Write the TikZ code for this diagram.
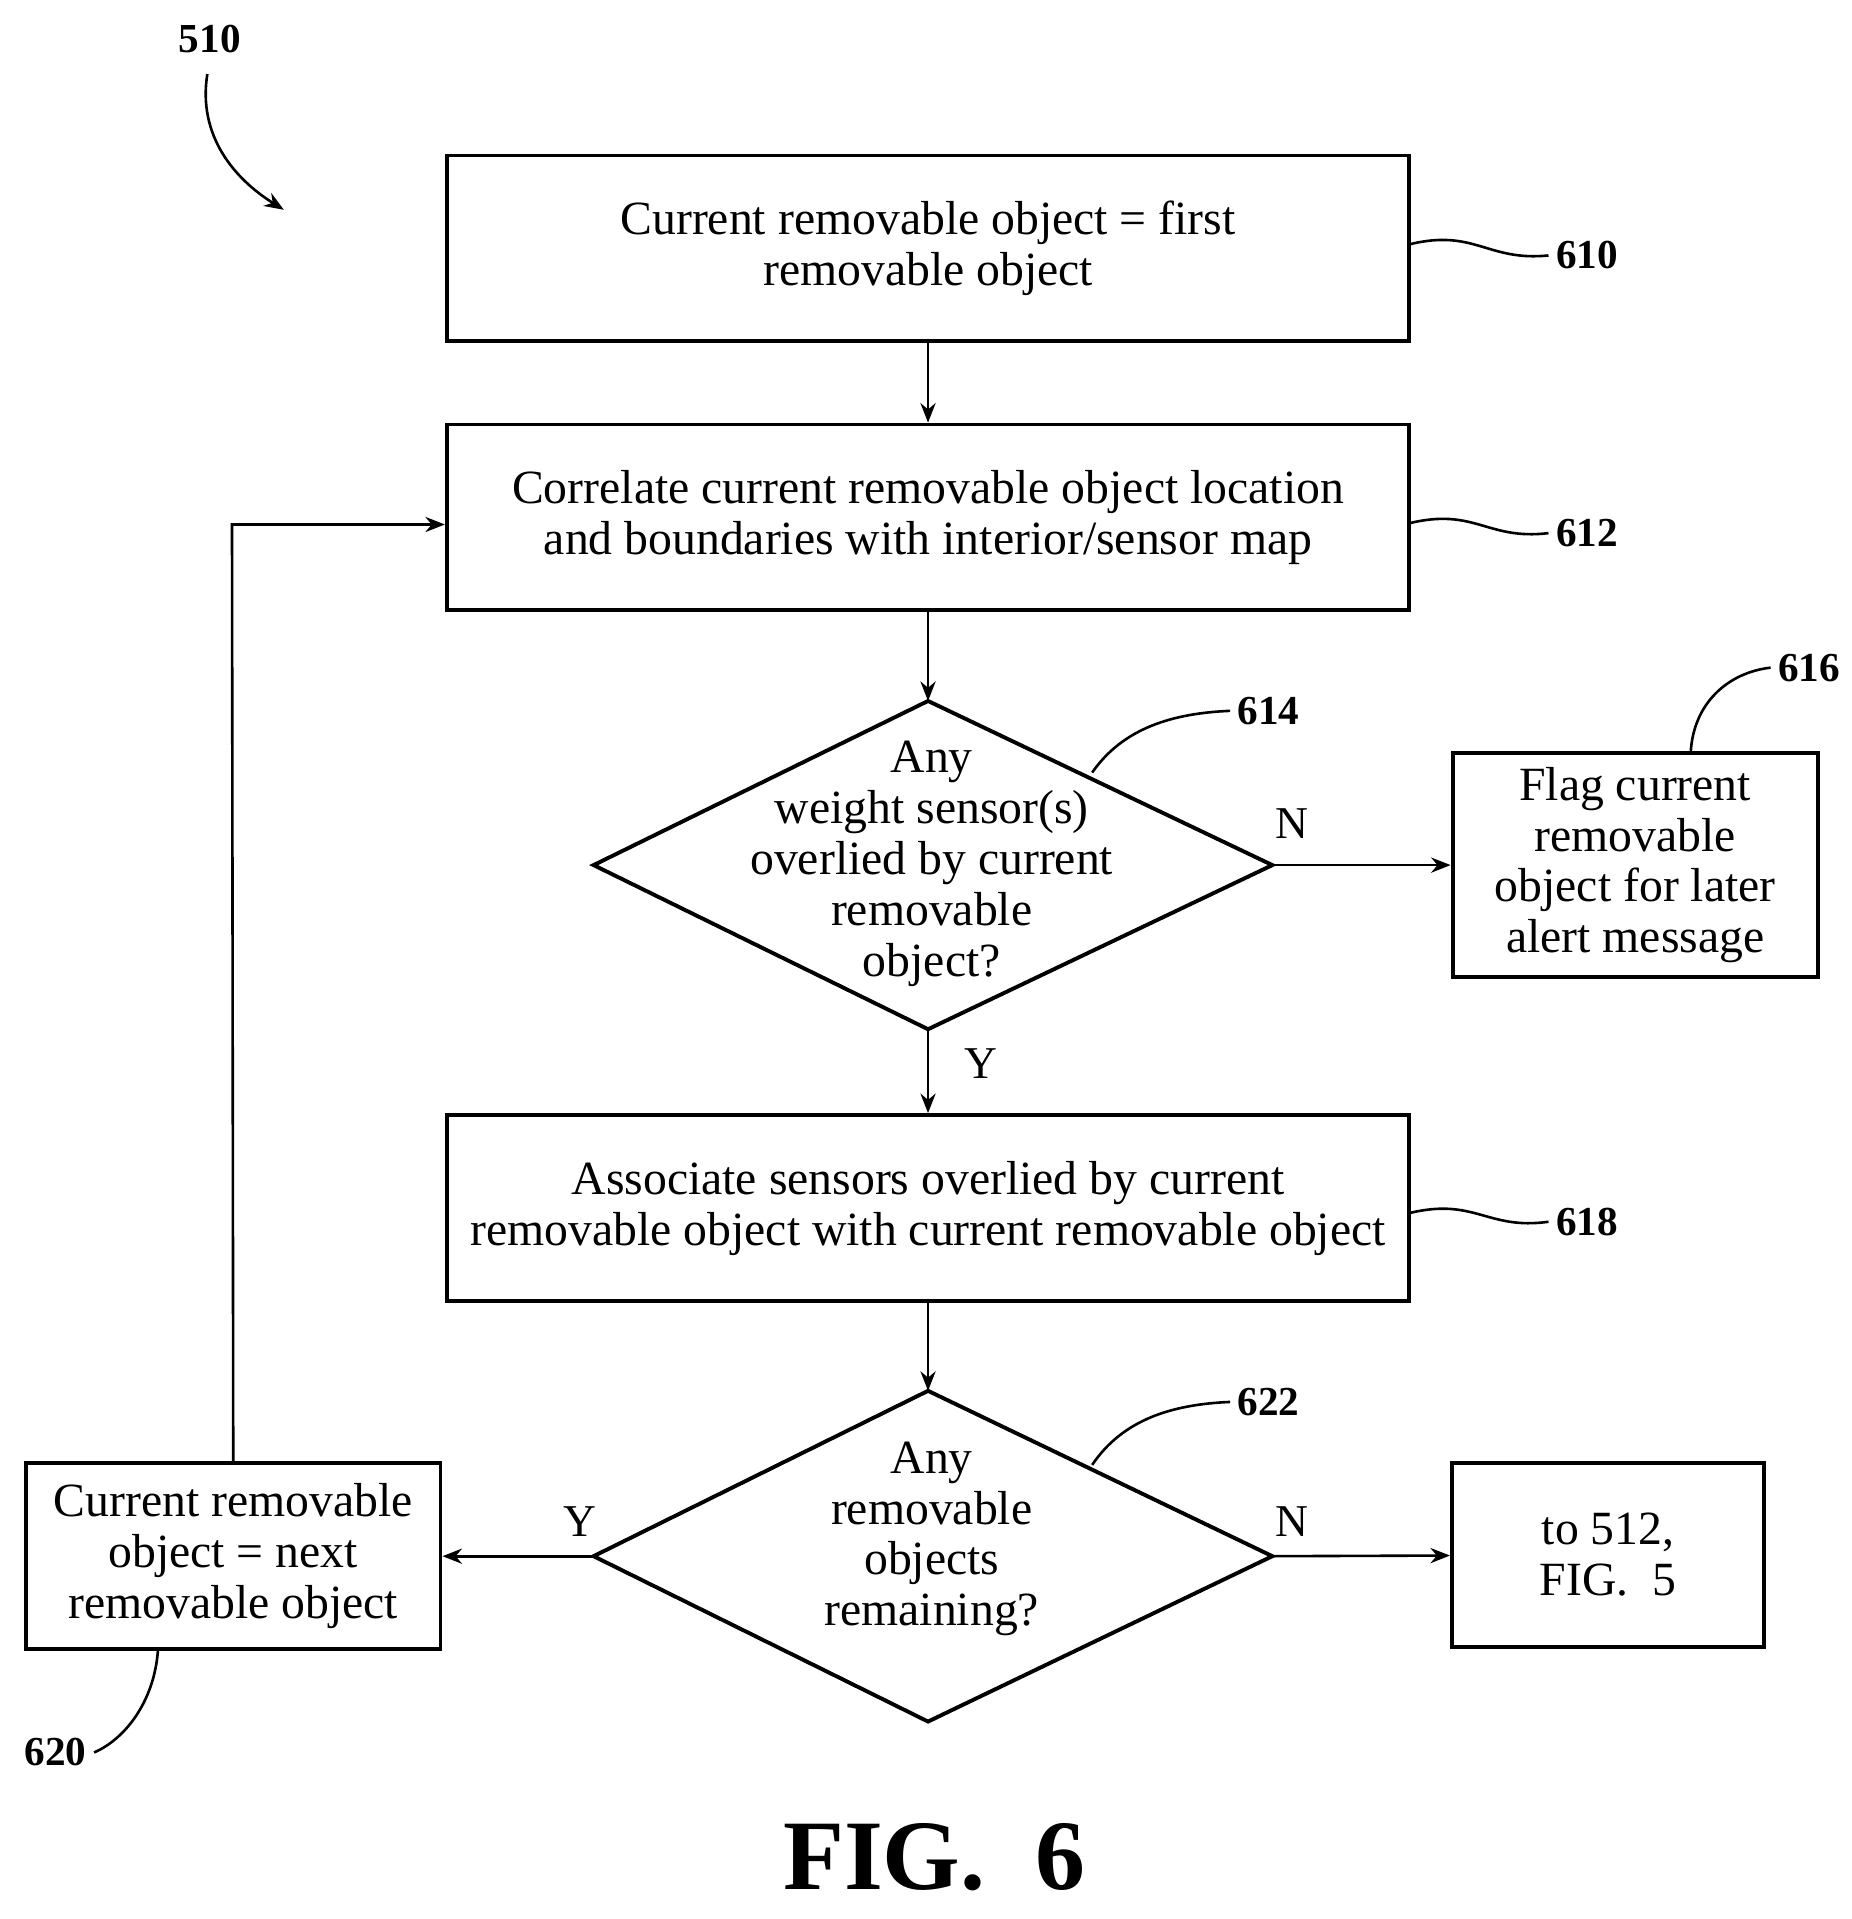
\documentclass[tikz,border=0pt]{standalone}
\usepackage{fontspec}
\setmainfont{Liberation Serif}
\usetikzlibrary{arrows.meta,shapes.geometric}
\begin{document}
\begin{tikzpicture}[x=0.02cm,y=-0.02cm,
  box/.style={draw,line width=1.8pt,align=center,inner sep=0pt,font=\fontsize{22}{23.5}\selectfont},
  dtext/.style={align=center,font=\fontsize{22}{23.5}\selectfont},
  lbl/.style={font=\bfseries\fontsize{19}{22}\selectfont},
  yn/.style={font=\fontsize{21}{23}\selectfont},
  arr/.style={line width=1.2pt,-{Stealth[length=9pt,width=7pt]}},
  lead/.style={line width=1.2pt}]
\useasboundingbox (0,0) rectangle (1500,1555);
\node[box,minimum width=15.6cm,minimum height=3cm] (b610) at (752,201) {Current removable object = first\\removable object};
\node[box,minimum width=15.6cm,minimum height=3cm] (b612) at (752,419) {Correlate current removable object location\\and boundaries with interior/sensor map};
\draw[line width=1.8pt] (481,701) coordinate (d1l) -- (752,568) coordinate (d1t) -- (1031,701) coordinate (d1r) -- (752,834) coordinate (d1b) -- cycle;
\node[dtext] (t614) at (755,700) {Any\\weight sensor(s)\\overlied by current\\removable\\object?};
\node[box,minimum width=5.92cm,minimum height=3.64cm] (b616) at (1325,701) {Flag current\\removable\\object for later\\alert message};
\node[box,minimum width=15.6cm,minimum height=3.02cm] (b618) at (752,979) {Associate sensors overlied by current\\removable object with current removable object};
\draw[line width=1.8pt] (481,1261) coordinate (d2l) -- (752,1127) coordinate (d2t) -- (1031,1261) coordinate (d2r) -- (752,1395) coordinate (d2b) -- cycle;
\node[dtext] (t622) at (755,1247) {Any\\removable\\objects\\remaining?};
\node[box,minimum width=6.72cm,minimum height=3.02cm] (b620) at (189,1261) {Current removable\\object = next\\removable object};
\node[box,minimum width=5.06cm,minimum height=2.98cm] (b512) at (1303,1260) {to 512,\\FIG.\ \ 5};
\draw[arr] (b610) -- (b612);
\draw[arr] (b612) -- (d1t);
\draw[arr] (d1r) -- (b616);
\draw[arr] (d1b) -- (b618);
\draw[arr] (b618) -- (d2t);
\draw[arr] (d2r) -- (b512);
\draw[arr] (d2l) -- (b620);
\coordinate (lp) at (188,425);
\draw[arr] (b620.north) -- (lp) -- (b612.west |- lp);
\node[yn] (n1) at (1047,667) {N};
\node[yn] (y1) at (795,862) {Y};
\node[yn] (n2) at (1047,1233) {N};
\node[yn] (y2) at (470,1233) {Y};
\node[lbl] (l610) at (1286,207) {610};
\node[lbl] (l612) at (1286,432) {612};
\node[lbl] (l618) at (1286,990) {618};
\node[lbl] (l614) at (1028,576) {614};
\node[lbl] (l622) at (1028,1136) {622};
\node[lbl] (l616) at (1466,541) {616};
\node[lbl] (l620) at (45,1420) {620};
\node[lbl] (l510) at (170,32) {510};
\draw[lead] (1142,198) .. controls (1195,185) and (1205,212) .. (l610.west);
\draw[lead] (1142,424) .. controls (1195,411) and (1205,438) .. (l612.west);
\draw[lead] (1142,983) .. controls (1195,970) and (1205,997) .. (l618.west);
\draw[lead] (885,626) .. controls (910,590) and (950,578) .. (l614.west);
\draw[lead] (885,1187) .. controls (910,1150) and (950,1138) .. (l622.west);
\draw[lead] (1370,610) .. controls (1372,570) and (1400,545) .. (l616.west);
\draw[lead] (128,1337) .. controls (125,1380) and (100,1410) .. (l620.east);
\draw[arr] (168,60) .. controls (160,110) and (190,145) .. (230,170);
\node[font=\bfseries\fontsize{46}{52}\selectfont] (fig) at (757,1505) {FIG.\ \ 6};
\end{tikzpicture}
\end{document}
